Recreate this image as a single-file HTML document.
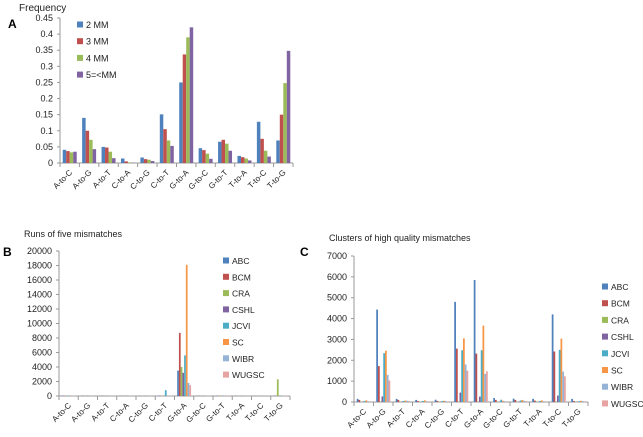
<!DOCTYPE html>
<html><head><meta charset="utf-8"><style>
body{margin:0;background:#fff;}
svg{display:block;font-family:"Liberation Sans",sans-serif;}
</style></head><body>
<svg id="fig" width="643" height="437" xmlns="http://www.w3.org/2000/svg">
<text x="19" y="11" font-size="10" fill="#222">Frequency</text>
<text x="8" y="28" font-size="12" font-weight="bold">A</text>
<text x="24" y="237" font-size="9" fill="#222">Runs of five mismatches</text>
<text x="3" y="256" font-size="12" font-weight="bold">B</text>
<text x="329" y="241" font-size="9" fill="#222">Clusters  of high quality  mismatches</text>
<text x="300" y="256" font-size="12" font-weight="bold">C</text>
</svg>
<script>
const categories=["A-to-C","A-to-G","A-to-T","C-to-A","C-to-G","C-to-T","G-to-A","G-to-C","G-to-T","T-to-A","T-to-C","T-to-G"];
const seriesA=["2 MM","3 MM","4 MM","5=<MM"];
const valA2=[.041,.14,.05,.014,.017,.151,.25,.046,.066,.022,.128,.07];
const valA3=[.037,.10,.048,.005,.012,.105,.337,.04,.072,.018,.075,.15];
const valA4=[.033,.072,.035,.002,.01,.07,.39,.029,.06,.014,.038,.248];
const valA5=[.035,.043,.015,.001,.006,.053,.421,.013,.038,.008,.02,.348];
const ticksA=["0","0.05","0.1","0.15","0.2","0.25","0.3","0.35","0.4","0.45"];
const centers=["ABC","BCM","CRA","CSHL","JCVI","SC","WIBR","WUGSC"];
const B_ABC=[60,40,40,30,30,60,3500,40,60,30,30,60];
const B_BCM=[40,30,30,20,20,40,8700,30,40,20,20,40];
const B_CRA=[30,20,20,20,20,30,4000,20,30,20,20,2300];
const B_CSHL=[30,20,20,20,20,30,3200,20,30,20,20,30];
const B_JCVI=[50,30,30,20,20,800,5600,30,40,20,20,40];
const B_SC=[40,30,30,20,20,40,18100,30,40,20,20,40];
const B_WIBR=[60,30,30,20,20,60,1800,30,40,20,20,60];
const B_WUGSC=[50,30,30,20,20,50,1500,30,40,20,20,50];
const ticksB=["0","2000","4000","6000","8000","10000","12000","14000","16000","18000","20000"];
const C_ABC=[150,4430,150,100,110,4800,5850,190,160,150,4200,150];
const C_BCM=[100,1720,100,50,50,2560,2320,100,100,70,2420,50];
const C_CRA=[20,20,20,20,20,20,20,20,20,20,20,20];
const C_CSHL=[20,270,20,20,20,450,260,20,20,20,310,20];
const C_JCVI=[50,2340,50,50,50,2480,2480,110,70,50,2500,40];
const C_SC=[80,2460,70,80,60,3050,3660,60,100,80,3040,60];
const C_WIBR=[40,1300,60,40,40,1800,1350,40,60,40,1460,50];
const C_WUGSC=[30,1030,50,30,30,1500,1470,30,40,30,1230,30];
const ticksC=["0","1000","2000","3000","4000","5000","6000","7000"];
const colors=["#4F81BD","#C0504D","#9BBB59","#8064A2","#4BACC6","#F79646","#95B3D7","#E6A3A1"];
const NS="http://www.w3.org/2000/svg";
const svg=document.getElementById('fig');
function mk(t,a){const e=document.createElementNS(NS,t);for(const k in a)e.setAttribute(k,a[k]);svg.appendChild(e);return e;}
function chart(id,x0,x1,y0,y1,maxV,ticks,names,series,leg){
  const yS=v=>y0-(v/maxV)*(y0-y1);
  const cw=(x1-x0)/categories.length;
  const xS=i=>x0+i*cw;
  let l=mk('line',{x1:x0,y1:y0,x2:x0,y2:y1,stroke:'#999'});
  
  
  l=mk('line',{x1:x0,y1:y0,x2:x1,y2:y0,stroke:'#999'});
  
  
  ticks.forEach(t=>{const v=parseFloat(t);const y=yS(v);
    mk('line',{x1:x0-3,y1:y,x2:x0,y2:y,stroke:'#999'});
    const tx=mk('text',{x:x0-7,y:y+3,'font-size':9,'text-anchor':'end',fill:'#222'});tx.textContent=t;
    
    });
  categories.forEach((c,i)=>{
    mk('line',{x1:xS(i+1),y1:y0,x2:xS(i+1),y2:y0+4,stroke:'#999'});
    if(i==0)mk('line',{x1:x0,y1:y0,x2:x0,y2:y0+4,stroke:'#999'});
    const cx=xS(i)+cw/2+3, cy=y0+10;
    const tx=mk('text',{x:cx,y:cy,'font-size':8,'text-anchor':'end',fill:'#222',transform:`rotate(-45 ${cx} ${cy})`});tx.textContent=c;
    
    
    const n=series.length, gap=cw*0.14, bw=(cw-2*gap)/n;
    series.forEach((s,j)=>{const y=yS(s[i]);
      const r=mk('rect',{x:xS(i)+gap+j*bw,y:y,width:bw,height:y0-y,fill:colors[j]});
      
      });
  });
  names.forEach((n,j)=>{const y=leg[1]+j*leg[2];
    const r=mk('rect',{x:leg[0],y:y-3.5,width:6,height:6,fill:colors[j]});
    
    
    const t=mk('text',{x:leg[0]+9,y:y+3,'font-size':leg[3],fill:'#222'});t.textContent=n;
    
    });
}
chart('panel-a',60,293,163,18,0.45,ticksA,seriesA,[valA2,valA3,valA4,valA5],[77,25,16.7,9]);
chart('panel-b',59,290,396,251,20000,ticksB,centers,[B_ABC,B_BCM,B_CRA,B_CSHL,B_JCVI,B_SC,B_WIBR,B_WUGSC],[223,261,16.3,8.5]);
chart('panel-c',354,588,402,256,7000,ticksC,centers,[C_ABC,C_BCM,C_CRA,C_CSHL,C_JCVI,C_SC,C_WIBR,C_WUGSC],[602,287,16.7,8.5]);
</script>
</body></html>
